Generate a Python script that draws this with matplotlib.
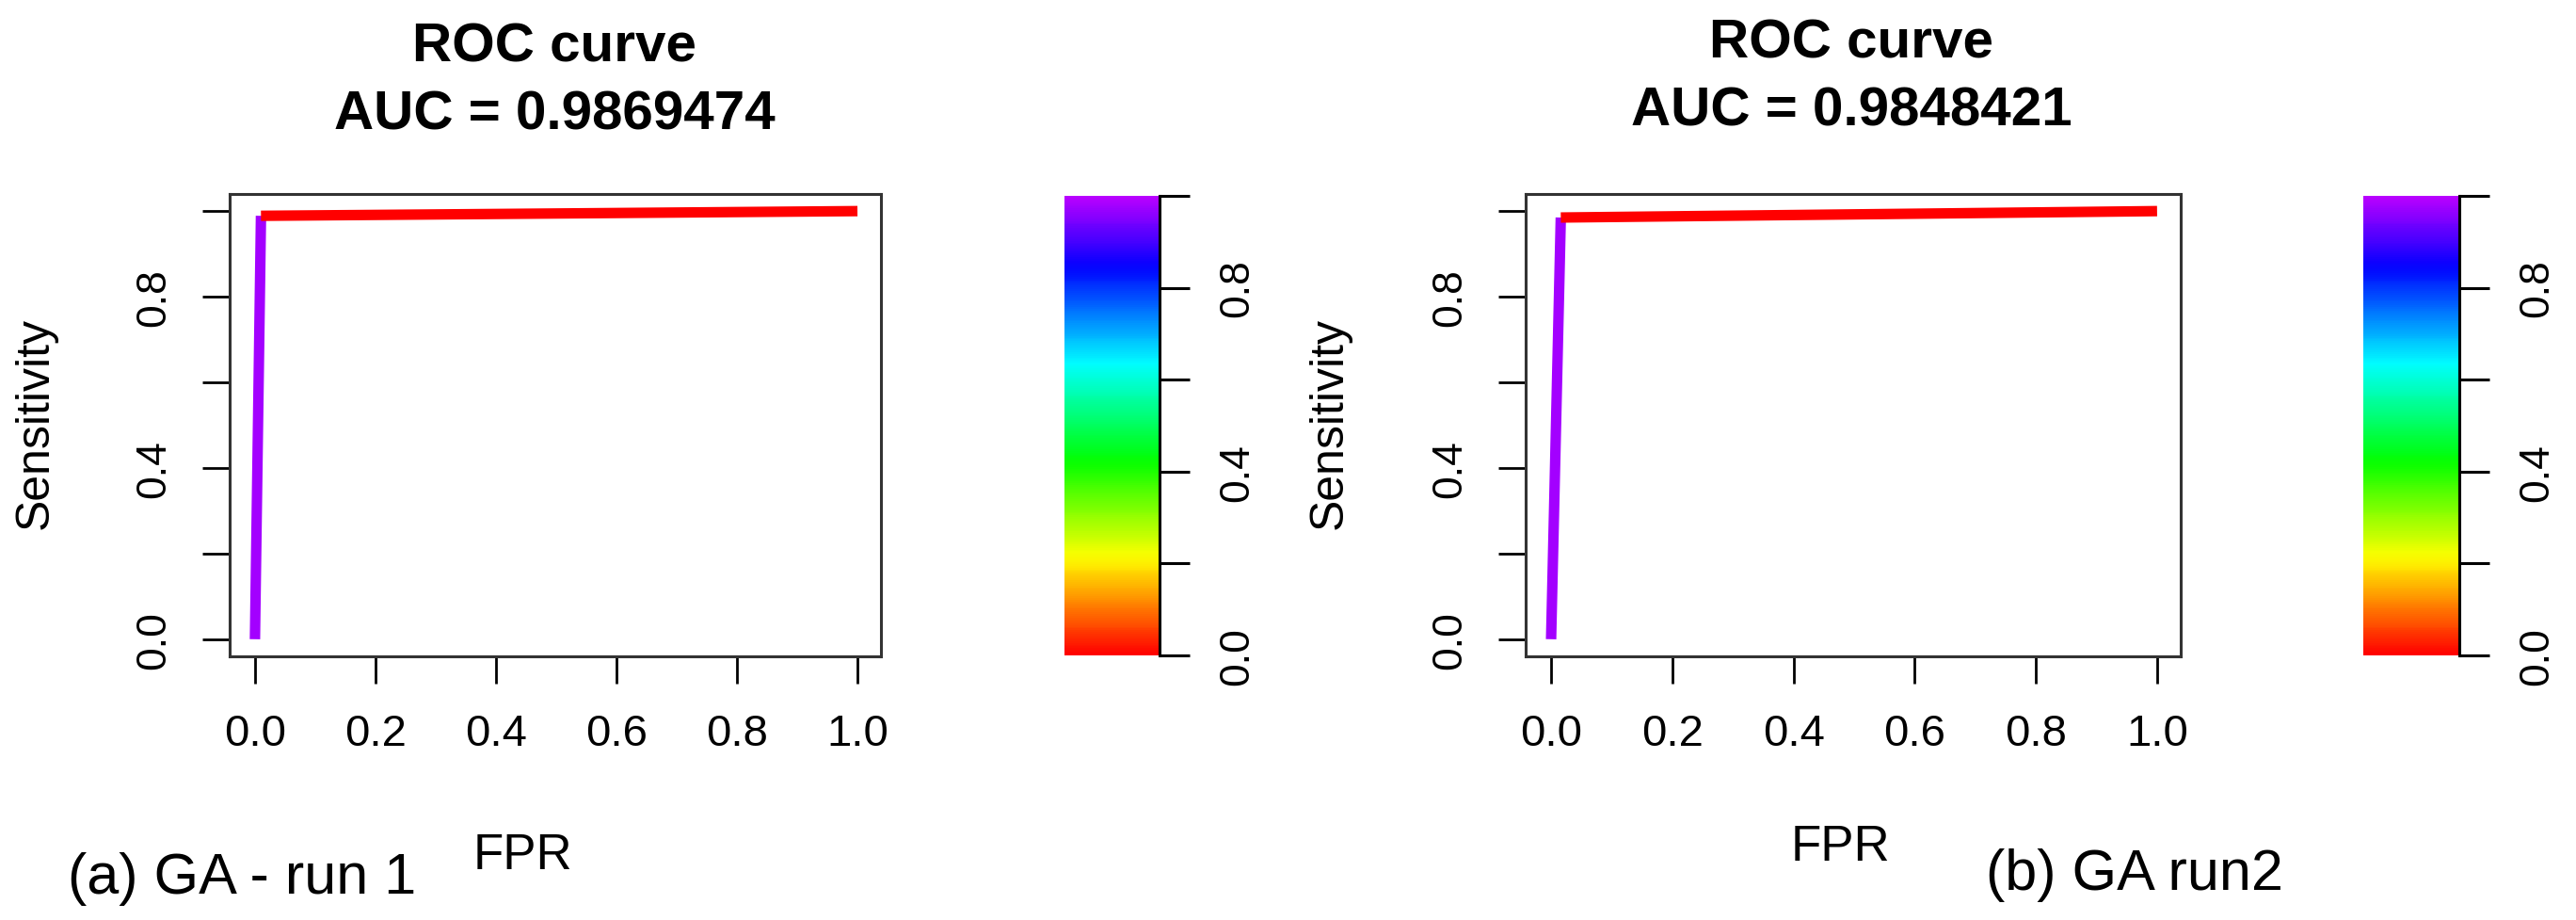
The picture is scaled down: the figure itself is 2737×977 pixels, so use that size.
import matplotlib
matplotlib.use("Agg")
import matplotlib.pyplot as plt
import numpy as np
from matplotlib import colors, cm
from matplotlib import font_manager as fm

names = {f.name for f in fm.fontManager.ttflist}
NARROW = ["Liberation Sans Narrow", "Liberation Sans", "DejaVu Sans"] if "Liberation Sans Narrow" in names else ["Liberation Sans", "DejaVu Sans"]
REG = ["Liberation Sans", "DejaVu Sans"]

# data
fpr_a = [0.0, 0.010, 1.0]
tpr_a = [0.0, 0.989, 1.0]
cut_a = [0.98, 0.0]
fpr_b = [0.0, 0.016, 1.0]
tpr_b = [0.0, 0.985, 1.0]
cut_b = [0.98, 0.0]
aucs = ["0.9869474", "0.9848421"]
captions = ["(a) GA - run 1", "(b) GA run2"]
ticks = [0.0, 0.2, 0.4, 0.6, 0.8, 1.0]
ticklabels = ["0.0", "", "0.4", "", "0.8", ""]
xticklabels = ["0.0", "0.2", "0.4", "0.6", "0.8", "1.0"]

W, H = 2737, 978
fig = plt.figure(figsize=(W/100, H/100), dpi=100)
base = colors.LinearSegmentedColormap.from_list("rb", [cm.hsv(v) for v in np.linspace(0, 0.80, 64)])

def px(x0, y0, x1, y1):
    return [x0/W, 1-y1/H, (x1-x0)/W, (y1-y0)/H]

panels = [
    dict(fpr=fpr_a, tpr=tpr_a, cut=cut_a, frame=(244, 207, 936, 698), cb=(1131, 209, 1232, 697),
         cap_x=72, cap_y=934, fpr_x=555, fpr_y=909, tx=589, ty=0, ylx=38),
    dict(fpr=fpr_b, tpr=tpr_b, cut=cut_b, frame=(1621, 207, 2317, 698), cb=(2511, 209, 2613, 697),
         cap_x=2110, cap_y=930, fpr_x=1955, fpr_y=900, tx=1967, ty=-3, ylx=1413),
]

for i, p in enumerate(panels):
    ax = fig.add_axes(px(*p["frame"]))
    for k in range(len(p["cut"])):
        ax.plot(p["fpr"][k:k+2], p["tpr"][k:k+2], color=base(p["cut"][k]), lw=8, solid_capstyle="butt")
    ax.set_xlim(-0.042, 1.039)
    ax.set_ylim(-0.04, 1.04)
    ax.set_xticks(ticks)
    ax.set_xticklabels(xticklabels, fontfamily=NARROW, fontsize=34)
    ax.set_yticks(ticks)
    ax.set_yticklabels(ticklabels, fontfamily=REG, fontsize=32, rotation=90, va="center")
    ax.tick_params(length=21, width=2, pad=22)
    for s in ax.spines.values():
        s.set_linewidth(2.2)
        s.set_color("#333333")
    fig.text(p["tx"]/W, 1-(50+p["ty"])/H, "ROC curve", ha="center", va="center", fontsize=42, fontweight="bold", family=NARROW)
    fig.text(p["tx"]/W, 1-(122+p["ty"])/H, "AUC = " + aucs[i], ha="center", va="center", fontsize=42, fontweight="bold", family=NARROW)
    fig.text(p["ylx"]/W, 1-450/H, "Sensitivity", rotation=90, ha="center", va="center", fontsize=36, family=REG)
    fig.text(p["fpr_x"]/W, 1-p["fpr_y"]/H, "FPR", ha="center", va="center", fontsize=38, family=NARROW)
    fig.text(p["cap_x"]/W, 1-p["cap_y"]/H, captions[i], ha="left", va="center", fontsize=44, family=NARROW)

    cax = fig.add_axes(px(*p["cb"]))
    sm = cm.ScalarMappable(norm=colors.Normalize(0, 1), cmap=base)
    cbar = fig.colorbar(sm, cax=cax)
    cbar.outline.set_visible(False)
    cbar.set_ticks(ticks)
    cbar.set_ticklabels(ticklabels)
    cax.tick_params(length=23, width=2.2, pad=22, labelsize=32)
    for t in cax.get_yticklabels():
        t.set_rotation(90); t.set_va("center"); t.set_family(REG)
    cax.spines["right"].set_visible(True)
    cax.spines["right"].set_linewidth(2.2)

fig.savefig("out.png", dpi=100, facecolor="white")
